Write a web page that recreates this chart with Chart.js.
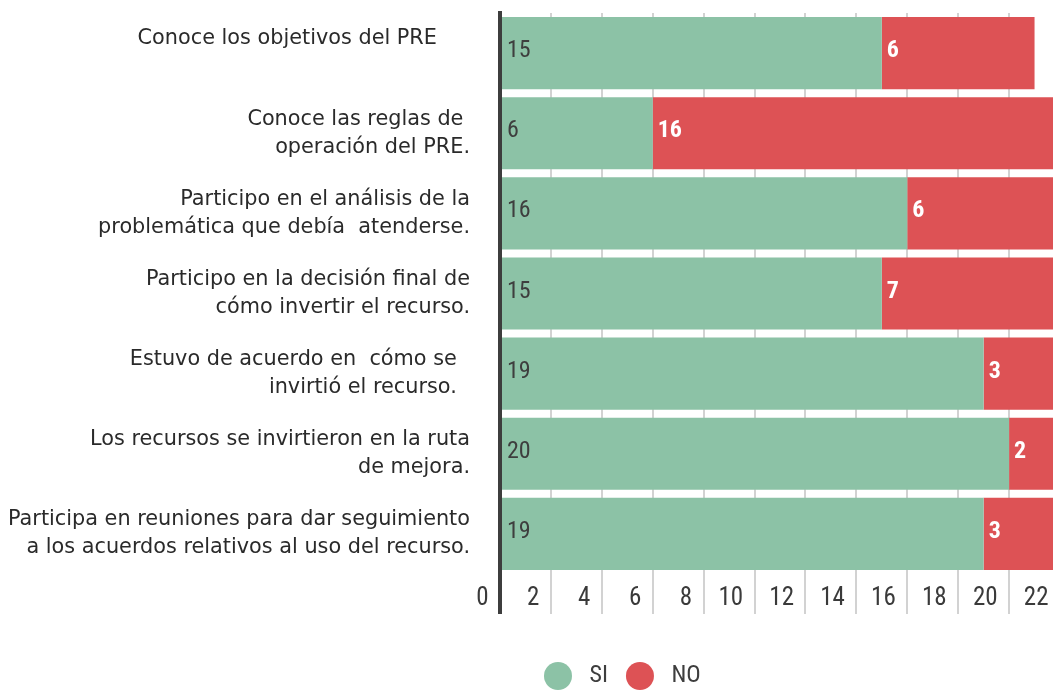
<!DOCTYPE html>
<html>
<head>
<meta charset="utf-8">
<script src="https://cdn.jsdelivr.net/npm/chart.js@4.4.1/dist/chart.umd.min.js"></script>
<style>
  html, body { margin: 0; padding: 0; background: #ffffff; overflow: hidden; }
  #wrap { width: 1070px; height: 692px; }
</style>
</head>
<body>
<div id="wrap"><canvas id="c" width="1070" height="692"></canvas></div>
<script>
// ---- data ----
const categories = [
  ["Conoce los objetivos del PRE     ", ""],
  ["Conoce las reglas de ", "operación del PRE."],
  ["Participo en el análisis de la", "problemática que debía  atenderse."],
  ["Participo en la decisión final de", "cómo invertir el recurso."],
  ["Estuvo de acuerdo en  cómo se  ", "invirtió el recurso.  "],
  ["Los recursos se invirtieron en la ruta", "de mejora."],
  ["Participa en reuniones para dar seguimiento", "a los acuerdos relativos al uso del recurso."]
];
const seriesNames = ["SI", "NO"];
const siValues = [15, 6, 16, 15, 19, 20, 19];
const noValues = [6, 16, 6, 7, 3, 2, 3];
const xTicks = [0, 2, 4, 6, 8, 10, 12, 14, 16, 18, 20, 22];

const GREEN = '#8CC2A6';
const RED = '#DD5255';
const NUMFONT = "'Liberation Sans Narrow', 'Roboto Condensed', Roboto, sans-serif";

const valueLabels = {
  id: 'valueLabels',
  afterDatasetsDraw(chart) {
    const ctx = chart.ctx;
    chart.data.datasets.forEach((ds, di) => {
      const meta = chart.getDatasetMeta(di);
      meta.data.forEach((bar, i) => {
        const p = bar.getProps(['x', 'y', 'base'], true);
        ctx.save();
        ctx.font = (di === 0 ? 'normal ' : 'bold ') + '24px ' + NUMFONT;
        ctx.fillStyle = di === 0 ? '#3e3e3e' : '#ffffff';
        ctx.textAlign = 'left';
        ctx.textBaseline = 'middle';
        ctx.fillText(String(ds.data[i]), Math.min(p.x, p.base) + 5, p.y - 2);
        ctx.restore();
      });
    });
  }
};

const legendPlace = {
  id: 'legendPlace',
  afterLayout(chart) {
    const lg = chart.legend;
    if (!lg) return;
    const w = lg.right - lg.left, h = lg.bottom - lg.top;
    lg.left = 526; lg.right = 526 + w;
    lg.top = 644; lg.bottom = 644 + h;
  }
};

new Chart(document.getElementById('c'), {
  type: 'bar',
  data: {
    labels: categories,
    datasets: [
      { label: seriesNames[0], data: siValues, backgroundColor: GREEN, borderWidth: 0,
        barPercentage: 0.9, categoryPercentage: 1.0 },
      { label: seriesNames[1], data: noValues, backgroundColor: RED, borderWidth: 0,
        barPercentage: 0.9, categoryPercentage: 1.0 }
    ]
  },
  options: {
    indexAxis: 'y',
    responsive: false,
    animation: false,
    layout: { padding: { top: 13, right: 10, left: 0, bottom: 0 } },
    scales: {
      x: {
        stacked: true,
        min: 0, max: 22,
        afterBuildTicks(scale) { scale.ticks = xTicks.map(v => ({ value: v })); },
        afterFit(scale) { scale.height = 62; scale.paddingLeft = 0; scale.paddingRight = 0; },
        border: { display: false },
        grid: {
          display: true,
          drawTicks: true,
          tickLength: 40,
          color: (c) => (c.tick && c.tick.value === 0) ? '#3d3d3d' : '#d2d2d2',
          lineWidth: (c) => (c.tick && c.tick.value === 0) ? 4 : 2,
          tickColor: (c) => (c.tick && c.tick.value === 0) ? '#3d3d3d' : '#d2d2d2',
          tickWidth: (c) => (c.tick && c.tick.value === 0) ? 4 : 2
        },
        ticks: {
          align: 'end',
          padding: -30,
          color: '#3a3a3a',
          font: { family: NUMFONT, size: 25, lineHeight: 1.2 },
          callback: (v) => v + '  '
        }
      },
      y: {
        stacked: true,
        z: 1,
        afterFit(scale) { scale.width = 500; scale.paddingTop = 0; scale.paddingBottom = 0; },
        grid: { display: false },
        border: { display: true, color: '#3d3d3d', width: 4 },
        ticks: {
          padding: 22,
          color: '#2a2a2a',
          font: { family: "'DejaVu Sans', sans-serif", size: 20.8, lineHeight: 1.35 }
        }
      }
    },
    plugins: {
      tooltip: { enabled: false },
      legend: {
        position: 'bottom',
        align: 'start',
        labels: {
          boxWidth: 28,
          boxHeight: 28,
          useBorderRadius: true,
          borderRadius: 14,
          padding: 18,
          color: '#3e3e3e',
          font: { family: NUMFONT, size: 24 },
          generateLabels: (chart) => Chart.defaults.plugins.legend.labels.generateLabels(chart)
            .map(l => Object.assign(l, { text: ' ' + l.text, lineWidth: 0 }))
        }
      }
    }
  },
  plugins: [valueLabels, legendPlace]
});
</script>
</body>
</html>
